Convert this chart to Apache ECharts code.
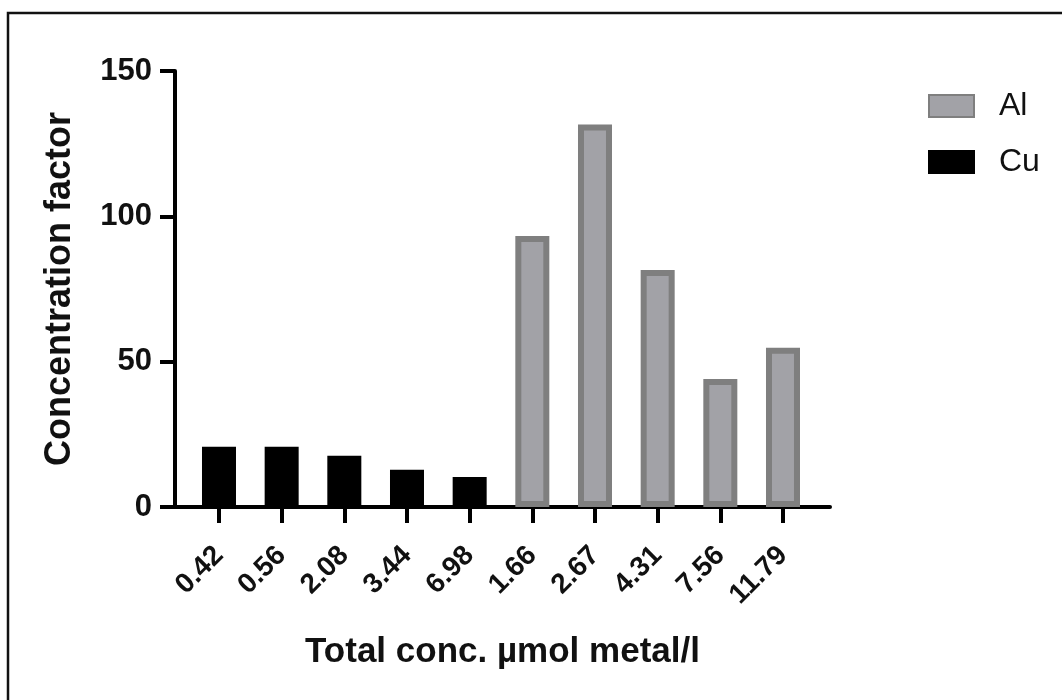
<!DOCTYPE html>
<html>
<head>
<meta charset="utf-8">
<script src="https://cdn.jsdelivr.net/npm/echarts@6/dist/echarts.min.js"></script>
<style>
  html, body { margin: 0; padding: 0; background: #fff; }
  #chart { width: 1062px; height: 700px; }
</style>
</head>
<body>
<div id="chart"></div>
<script>
// x labels: total concentration, µmol metal/l
const xLabels = ['0.42', '0.56', '2.08', '3.44', '6.98', '1.66', '2.67', '4.31', '7.56', '11.79'];
// Cu bars sit on positions 0-4, Al on 5-9
const cuPos = [0, 1, 2, 3, 4];
const cuValues = [20.7, 20.7, 17.6, 12.8, 10.3];
const alPos = [5, 6, 7, 8, 9];
const alValues = [93.2, 131.6, 81.5, 44, 54.8];
const yTicks = [0, 50, 100, 150];

const FONT = 'Liberation Sans';
const chart = echarts.init(document.getElementById('chart'));

const option = {
  backgroundColor: '#fff',
  animation: false,
  graphic: [{
    // frame line at top and left of the picture
    type: 'rect',
    shape: { x: 8, y: 13, width: 1200, height: 800 },
    style: { fill: 'none', stroke: '#111', lineWidth: 2.5 },
    silent: true
  }],
  grid: { left: 175, right: 232, top: 71, bottom: 193 },
  legend: {
    orient: 'vertical',
    left: 928,
    top: 90,
    padding: 0,
    itemWidth: 45,
    itemHeight: 22,
    itemGap: 24,
    icon: 'rect',
    data: ['Al', 'Cu'],
    textStyle: { fontFamily: FONT, fontSize: 32, color: '#111', padding: [0, 0, 0, 20] }
  },
  xAxis: {
    type: 'value',
    min: -0.702,
    max: 9.75,
    name: 'Total conc. µmol metal/l',
    nameLocation: 'middle',
    nameGap: 128,
    nameTextStyle: { fontFamily: FONT, fontSize: 35, fontWeight: 'bold', color: '#111' },
    splitLine: { show: false },
    axisLine: { lineStyle: { color: '#000', width: 4 } },
    axisTick: {
      customValues: xLabels.map((_, i) => i),
      length: 16,
      lineStyle: { color: '#000', width: 4 }
    },
    axisLabel: {
      customValues: xLabels.map((_, i) => i),
      rotate: 45,
      margin: 44,
      fontFamily: FONT,
      fontSize: 28,
      fontWeight: 'bold',
      color: '#111',
      formatter: (v) => xLabels[Math.round(v)]
    }
  },
  yAxis: {
    type: 'value',
    min: 0,
    max: 150,
    interval: 50,
    name: 'Concentration factor',
    nameLocation: 'middle',
    nameGap: 97,
    nameTextStyle: { fontFamily: FONT, fontSize: 36, fontWeight: 'bold', color: '#111' },
    splitLine: { show: false },
    axisLine: { show: true, onZero: false, lineStyle: { color: '#000', width: 4 } },
    axisTick: { show: true, length: 15, lineStyle: { color: '#000', width: 4 } },
    axisLabel: {
      margin: 23,
      fontFamily: FONT,
      fontSize: 31,
      fontWeight: 'bold',
      color: '#111',
      formatter: (v) => (yTicks.includes(v) ? String(v) : '')
    }
  },
  series: [
    {
      name: 'Al',
      type: 'bar',
      barWidth: 34,
      barGap: '-100%',
      itemStyle: { color: '#a2a2a7', borderColor: '#7f7f7f', borderWidth: 6 },
      data: alPos.map((p, i) => [p, alValues[i]])
    },
    {
      name: 'Cu',
      type: 'bar',
      barWidth: 34,
      barGap: '-100%',
      itemStyle: { color: '#000', borderColor: '#000', borderWidth: 6 },
      data: cuPos.map((p, i) => [p, cuValues[i]])
    }
  ]
};

chart.setOption(option);
</script>
</body>
</html>
